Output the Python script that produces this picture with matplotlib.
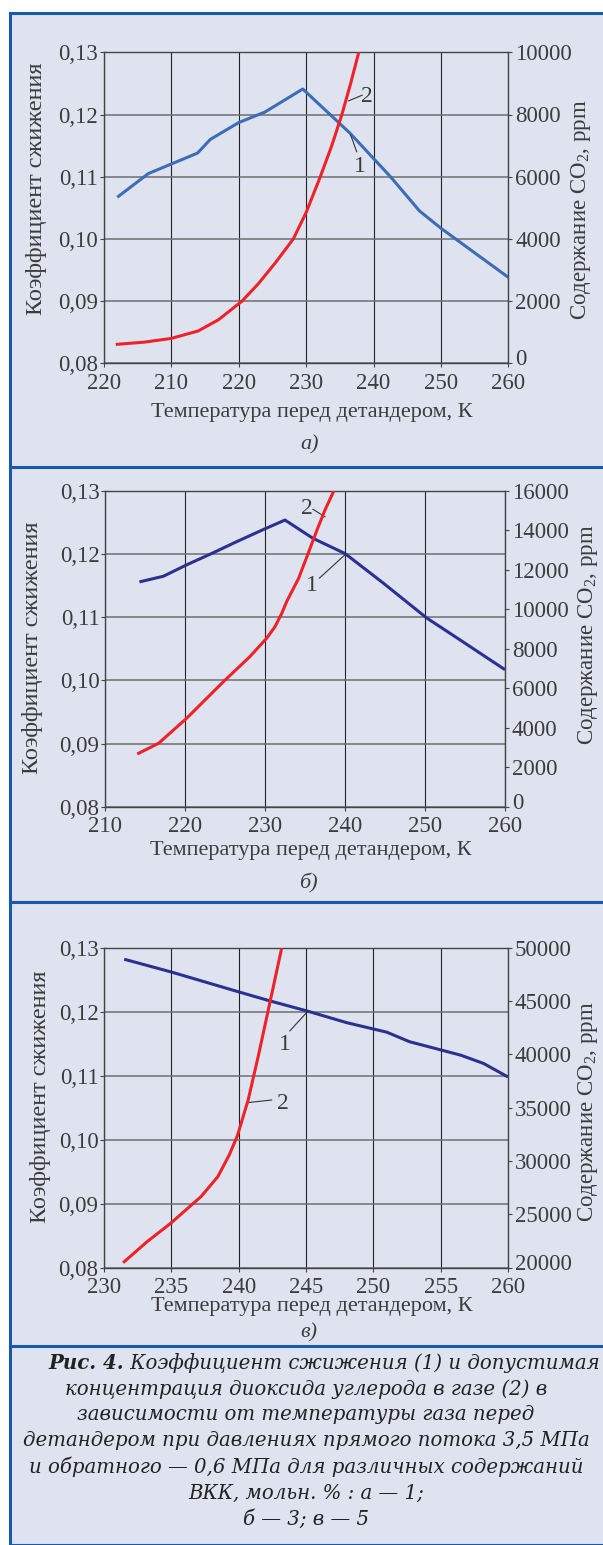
import matplotlib.pyplot as plt
from matplotlib.patches import Rectangle
from matplotlib.lines import Line2D
from matplotlib.transforms import ScaledTranslation

plt.rcParams['font.family'] = ['Liberation Serif', 'DejaVu Serif']
plt.rcParams['mathtext.fontset'] = 'custom'
plt.rcParams['mathtext.rm'] = 'Liberation Serif'
plt.rcParams['mathtext.it'] = 'Liberation Serif:italic'

W, H = 603, 1545
BG = '#dfe3f0'
FRAME = '#1759ab'
TXT = '#3c3c3c'
RED = '#ee2229'

# а) 1 мол.% ВКК
a_t_k = [202.0, 206.6, 213.9, 215.8, 220.0, 223.9, 229.5, 236.5, 242.5, 246.8, 250.0, 260.0]
a_k = [0.1067, 0.1105, 0.1138, 0.1160, 0.1187, 0.1204, 0.1241, 0.1170, 0.1100, 0.1045, 0.1017, 0.0938]
a_t_co2 = [202.0, 206.0, 210.0, 214.0, 217.0, 220.5, 223.0, 225.5, 228.1, 230.0,
           232.1, 233.8, 235.3, 236.6, 237.8]
a_co2 = [611, 680, 800, 1040, 1400, 2000, 2580, 3250, 4000, 4850,
         6000, 7000, 8000, 9000, 10000]

# б) 3 мол.% ВКК
b_t_k = [214.3, 217.3, 220.2, 223.5, 226.5, 229.8, 232.5, 236.0, 240.0, 244.8, 250.2, 254.4, 260.0]
b_k = [0.1156, 0.1165, 0.1183, 0.1202, 0.1220, 0.1239, 0.1254, 0.1225, 0.1201, 0.1154, 0.1099,
       0.1064, 0.1017]
b_t_co2 = [214.2, 216.7, 218.1, 220.2, 224.8, 228.1, 230.2, 231.25, 232.1, 232.7, 234.2,
           235.4, 236.5, 237.5, 238.6]
b_co2 = [2706, 3213, 3720, 4480, 6335, 7602, 8535, 9122, 9802, 10389, 11571,
         12842, 14023, 15037, 16000]

# в) 5 мол.% ВКК
c_t_k = [231.5, 235.0, 240.0, 242.3, 245.1, 248.0, 251.0, 252.7, 254.7, 256.5, 258.2, 260.0]
c_k = [0.1282, 0.1262, 0.1231, 0.1217, 0.1201, 0.1183, 0.1168, 0.1153, 0.1142, 0.1132, 0.1119, 0.1098]
c_t_co2 = [231.5, 233.2, 234.95, 237.2, 238.45, 239.3, 239.9, 240.7, 241.45, 242.2, 243.2]
c_co2 = [20560, 22440, 24160, 26660, 28530, 30570, 32350, 35700, 39800, 44160, 50000]

k_ticks = [0.08, 0.09, 0.10, 0.11, 0.12, 0.13]
k_labels = ['0,08', '0,09', '0,10', '0,11', '0,12', '0,13']
a_xticks = [200, 210, 220, 230, 240, 250, 260]
a_xlabels = ['220', '210', '220', '230', '240', '250', '260']
b_xticks = [210, 220, 230, 240, 250, 260]
c_xticks = [230, 235, 240, 245, 250, 255, 260]
a_co2_ticks = [0, 2000, 4000, 6000, 8000, 10000]
b_co2_ticks = [0, 2000, 4000, 6000, 8000, 10000, 12000, 14000, 16000]
c_co2_ticks = [20000, 25000, 30000, 35000, 40000, 45000, 50000]

XLAB = 'Температура перед детандером, К'
YLAB = 'Коэффициент сжижения'
Y2LAB = r'Содержание CO$_\mathregular{2}$, ppm'

caption = [
    'концентрация диоксида углерода в газе (2) в',
    'зависимости от температуры газа перед',
    'детандером при давлениях прямого потока 3,5 МПа',
    'и обратного — 0,6 МПа для различных содержаний',
    'ВКК, мольн. % : а — 1;',
    'б — 3; в — 5',
]


def fx(x):
    return x / W


def fy(y):
    return 1 - y / H


fig = plt.figure(figsize=(W / 100, H / 100), dpi=100, facecolor='white')

# frame with light background and separators
fig.patches.append(Rectangle((fx(10), 0), 1, fy(13), transform=fig.transFigure,
                             facecolor=BG, edgecolor=FRAME, linewidth=2.2, zorder=-5))
for ys in [467, 902, 1346]:
    fig.add_artist(Line2D([fx(10), 1], [fy(ys), fy(ys)], transform=fig.transFigure,
                          color=FRAME, linewidth=2.2))


def nudge(label, dy_px):
    label.set_transform(label.get_transform() +
                        ScaledTranslation(0, dy_px / 100, fig.dpi_scale_trans))


def panel(box, xlim, xticks, xlabels, t_k, k, t_co2, co2, blue, co2_lim, co2_ticks,
          notes, xlab_y, tag, tag_y, ylab_x, ylab_y, y2lab_x, y2lab_y):
    l, t, r, b = box
    ax = fig.add_axes([fx(l), fy(b), (r - l) / W, (b - t) / H])
    ax.set_facecolor(BG)
    ax.set_xlim(*xlim)
    ax.set_ylim(0.08, 0.13)
    ax.set_xticks(xticks)
    ax.set_xticklabels(xlabels)
    ax.set_yticks(k_ticks)
    ax.set_yticklabels(k_labels)
    ax.grid(axis='y', color='#6e6e6e', linewidth=1.1)
    ax.grid(axis='x', color='#222222', linewidth=0.8)
    for s in ax.spines.values():
        s.set_color('#444444')
        s.set_linewidth(1.0)
    ax.tick_params(direction='out', length=3, width=0.8, color='#444444',
                   labelsize=16.5, labelcolor=TXT)
    ax.tick_params(axis='y', pad=1)
    ax.tick_params(axis='x', pad=4)
    ax.plot(t_k, k, color=blue, linewidth=2.2, solid_capstyle='butt', zorder=3)

    ax2 = ax.twinx()
    ax2.set_ylim(*co2_lim)
    ax2.set_yticks(co2_ticks)
    ax2.set_yticklabels([str(v) for v in co2_ticks])
    ax2.tick_params(direction='out', length=3, width=0.8, color='#444444',
                    labelsize=16.5, labelcolor=TXT, pad=2)
    for s in ax2.spines.values():
        s.set_visible(False)
    ax2.plot(t_co2, co2, color=RED, linewidth=2.2, zorder=3)
    # lowest ppm label sits a little above the bottom edge
    nudge(ax2.get_yticklabels()[0], 6)

    # curve numbers with leaders
    for txt, tx, ty, p0, p1 in notes:
        ax.plot([p0[0], p1[0]], [p0[1], p1[1]], color='#333333', linewidth=0.8, zorder=4)
        ax.text(tx, ty, txt, ha='center', va='center', fontsize=17, color=TXT, zorder=5)

    fig.text(fx((l + r) / 2 + 6), fy(xlab_y), XLAB, ha='center', va='center',
             fontsize=16, color=TXT)
    fig.text(fx((l + r) / 2 + 3), fy(tag_y), tag, ha='center', va='center',
             fontsize=16, color=TXT, style='italic')
    fig.text(fx(ylab_x), fy(ylab_y), YLAB, ha='center', va='center', rotation=90,
             fontsize=17.5, color=TXT)
    fig.text(fx(y2lab_x), fy(y2lab_y), Y2LAB, ha='center', va='center', rotation=90,
             fontsize=16.5, color=TXT)
    return ax


panel((103.8, 52.3, 508.5, 363.3), (200, 260), a_xticks, a_xlabels,
      a_t_k, a_k, a_t_co2, a_co2, '#3d6db5', (0, 10000), a_co2_ticks,
      [('2', 239.0, 0.1229, (236.3, 0.1222), (238.3, 0.1231)),
       ('1', 237.9, 0.1116, (236.6, 0.1167), (237.5, 0.1140))],
      413, 'а)', 445, 36.5, 189, 581, 210)

panel((105, 491, 505, 806.7), (210, 260), b_xticks, [str(v) for v in b_xticks],
      b_t_k, b_k, b_t_co2, b_co2, '#2b3190', (0, 16000), b_co2_ticks,
      [('2', 235.2, 0.1273, (236.0, 0.1271), (237.5, 0.1259)),
       ('1', 235.8, 0.1151, (236.8, 0.1162), (240.0, 0.1199))],
      850, 'б)', 883, 32.7, 647.5, 588.5, 635)

panel((104, 947.7, 508, 1267.7), (230, 260), c_xticks, [str(v) for v in c_xticks],
      c_t_k, c_k, c_t_co2, c_co2, '#2b3190', (20000, 50000), c_co2_ticks,
      [('1', 243.45, 0.1148, (243.8, 0.1170), (245.15, 0.1201)),
       ('2', 243.3, 0.1056, (240.7, 0.1058), (242.45, 0.1062))],
      1307, 'в)', 1333, 40.4, 1096.7, 588.5, 1111.7)

# caption: bold lead-in followed by italic text on the first line
renderer = fig.canvas.get_renderer()
cap_size = 14.2
cap_font = ['DejaVu Serif']
lead = fig.text(0, fy(1363), 'Рис. 4.', fontsize=cap_size, weight='bold', style='italic',
                family=cap_font, color='#222222', ha='left', va='center')
rest = fig.text(0, fy(1363), ' Коэффициент сжижения (1) и допустимая', fontsize=cap_size,
                family=cap_font, style='italic', color='#222222', ha='left', va='center')
w1 = lead.get_window_extent(renderer).width
w2 = rest.get_window_extent(renderer).width
x0 = 324 - (w1 + w2) / 2
lead.set_x(fx(x0))
rest.set_x(fx(x0 + w1))
for i, line in enumerate(caption):
    fig.text(fx(306), fy(1389 + 26 * i), line, fontsize=cap_size, style='italic',
             family=cap_font, color='#222222', ha='center', va='center')

fig.savefig('out.png', dpi=100, facecolor='white')
